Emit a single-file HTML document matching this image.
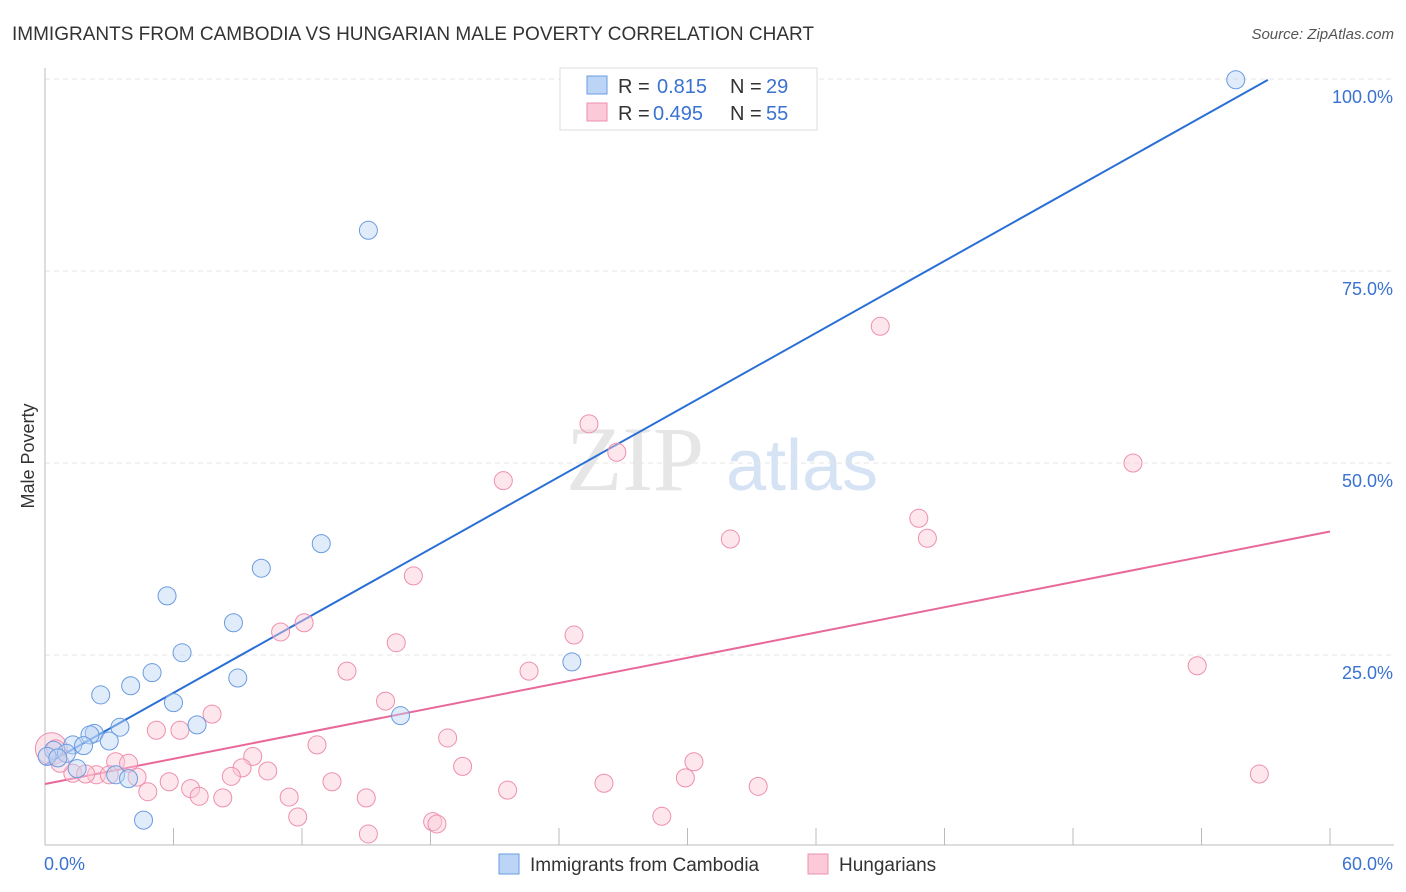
<!DOCTYPE html>
<html><head><meta charset="utf-8">
<style>
body{margin:0;background:#fff;font-family:"Liberation Sans",sans-serif;}
#wrap{position:relative;width:1406px;height:892px;overflow:hidden;}
</style></head>
<body>
<div id="wrap">
<svg id="chart" width="1406" height="892" xmlns="http://www.w3.org/2000/svg">
<text x="12" y="40" font-size="19" fill="#333">IMMIGRANTS FROM CAMBODIA VS HUNGARIAN MALE POVERTY CORRELATION CHART</text>
<text x="1394" y="39" font-size="15" fill="#555" font-style="italic" text-anchor="end">Source: ZipAtlas.com</text>
<text x="34" y="456" font-size="18" fill="#333" text-anchor="middle" transform="rotate(-90 34 456)">Male Poverty</text>
<g>
<text x="635" y="490" font-size="92" fill="#e6e6e6" font-family="Liberation Serif,serif" text-anchor="middle">ZIP</text>
<text x="802" y="490" font-size="72" fill="#d5e3f5" text-anchor="middle">atlas</text>
</g>
<g id="grid"></g>
<g id="axes"></g>
<g id="lines"></g>
<g id="pts"></g>
<g>
<rect x="560" y="68" width="257" height="62" fill="#fff" stroke="#ddd"/>
<rect x="587" y="76" width="20" height="18" fill="#bcd4f5" stroke="#6a9be0"/>
<rect x="587" y="103" width="20" height="18" fill="#fbc9d8" stroke="#ee8fae"/>
<text x="618" y="93" font-size="20" fill="#333">R = </text>
<text x="657" y="93" font-size="20" fill="#3a72d0">0.815</text>
<text x="730" y="93" font-size="20" fill="#333">N = </text>
<text x="766" y="93" font-size="20" fill="#3a72d0">29</text>
<text x="618" y="120" font-size="20" fill="#333">R = </text>
<text x="653" y="120" font-size="20" fill="#3a72d0">0.495</text>
<text x="730" y="120" font-size="20" fill="#333">N = </text>
<text x="766" y="120" font-size="20" fill="#3a72d0">55</text>
</g>
<g>
<rect x="499" y="854" width="20" height="20" fill="#bcd4f5" stroke="#6a9be0"/>
<text x="530" y="871" font-size="19" fill="#333">Immigrants from Cambodia</text>
<rect x="808" y="854" width="20" height="20" fill="#fbc9d8" stroke="#ee8fae"/>
<text x="839" y="871" font-size="19" fill="#333">Hungarians</text>
</g>
</svg>
</div>
<script>
const blueX=[55.6,15.1,12.9,10.1,5.7,8.8,6.4,5.0,9.0,4.0,2.6,6.0,7.1,3.5,2.3,2.1,3.0,1.3,1.8,0.4,1.0,0.1,0.6,1.5,3.3,3.9,4.6,16.6,24.6];
const blueY=[99.9,80.3,39.5,36.3,32.7,29.2,25.3,22.7,22.0,21.0,19.8,18.8,15.9,15.6,14.8,14.6,13.8,13.3,13.2,12.6,12.2,11.8,11.6,10.2,9.4,8.9,3.5,17.1,24.1];
const pinkX=[39.0,25.4,26.7,50.8,21.4,40.8,41.2,32.0,17.2,12.1,11.0,24.7,16.4,14.1,22.6,53.8,15.9,7.8,5.2,6.3,18.8,12.7,9.7,3.3,3.9,9.2,10.4,30.3,19.5,56.7,8.7,29.9,2.4,1.3,3.0,4.3,5.8,13.4,26.1,6.8,33.3,21.6,4.8,7.2,8.3,11.4,15.0,11.8,18.1,18.3,28.8,15.1,0.5,0.7,1.9];
const pinkY=[67.8,55.1,51.4,50.0,47.7,42.8,40.2,40.1,35.3,29.2,28.0,27.6,26.6,22.9,22.9,23.6,19.0,17.3,15.2,15.2,14.2,13.3,11.8,11.1,10.9,10.3,9.9,11.1,10.5,9.5,9.2,9.0,9.4,9.6,9.4,9.1,8.5,8.5,8.3,7.6,7.9,7.4,7.2,6.6,6.4,6.5,6.4,3.9,3.3,3.0,4.0,1.7,12.8,10.9,9.5];
const yTicks=[25,50,75,100];
const yTickLabels=["25.0%","50.0%","75.0%","100.0%"];
const xTickLabels=["0.0%","60.0%"];
const blueTrend=[10.7,1.562];
const pinkTrend=[8.2,0.548];
const NS='http://www.w3.org/2000/svg';
const sx=v=>45+v/60*1285;
const sy=v=>847-v/100*768;
function mk(p,tag,a){const e=document.createElementNS(NS,tag);for(const k in a)e.setAttribute(k,a[k]);document.getElementById(p).appendChild(e);return e;}
yTicks.forEach((t,i)=>{
  const g=mk('grid','line',{x1:45,x2:1394,y1:sy(t),y2:sy(t),stroke:'#e4e4e4','stroke-dasharray':'5,4'});
  
  
  const l=mk('grid','text',{x:1393,y:sy(t)+24,'font-size':18,fill:'#3a72d0','text-anchor':'end'});
  l.textContent=yTickLabels[i];
  
  
});
let a=mk('axes','line',{x1:45,x2:45,y1:68,y2:845,stroke:'#bbb'});


a=mk('axes','line',{x1:45,x2:1394,y1:845,y2:845,stroke:'#bbb'});


for(let i=0;i<=10;i++){
  const t=mk('axes','line',{x1:sx(i*6),x2:sx(i*6),y1:828,y2:845,stroke:'#bbb'});
  
  
}
[[0,'start',44],[60,'end',1393]].forEach((d,i)=>{
  const l=mk('axes','text',{x:d[2],y:870,'font-size':18,fill:'#3a72d0','text-anchor':d[1]});
  l.textContent=xTickLabels[i];
  
  
});
function dots(xs,ys,fill,stroke,name){
  xs.forEach((x,i)=>{
    const c=mk('pts','circle',{cx:sx(x),cy:sy(ys[i]),r:9,fill:fill,'fill-opacity':0.45,stroke:stroke,'stroke-width':1});
    
    
  });
}
const big=mk('pts','circle',{cx:sx(0.3),cy:sy(12.8),r:16,fill:'#fbc9d8','fill-opacity':0.5,stroke:'#ee8fae'});


dots(pinkX,pinkY,'#fbc9d8','#ee8fae','hungarian-point');
dots(blueX,blueY,'#bcd4f5','#6a9be0','cambodia-point');
let ln=mk('lines','line',{x1:sx(0),y1:sy(blueTrend[0]),x2:sx(57.1),y2:sy(blueTrend[0]+blueTrend[1]*57.1),stroke:'#2a6fd6','stroke-width':2});


ln=mk('lines','line',{x1:sx(0),y1:sy(pinkTrend[0]),x2:sx(60),y2:sy(pinkTrend[0]+pinkTrend[1]*60),stroke:'#e8689a','stroke-width':2});


</script>
</body></html>
